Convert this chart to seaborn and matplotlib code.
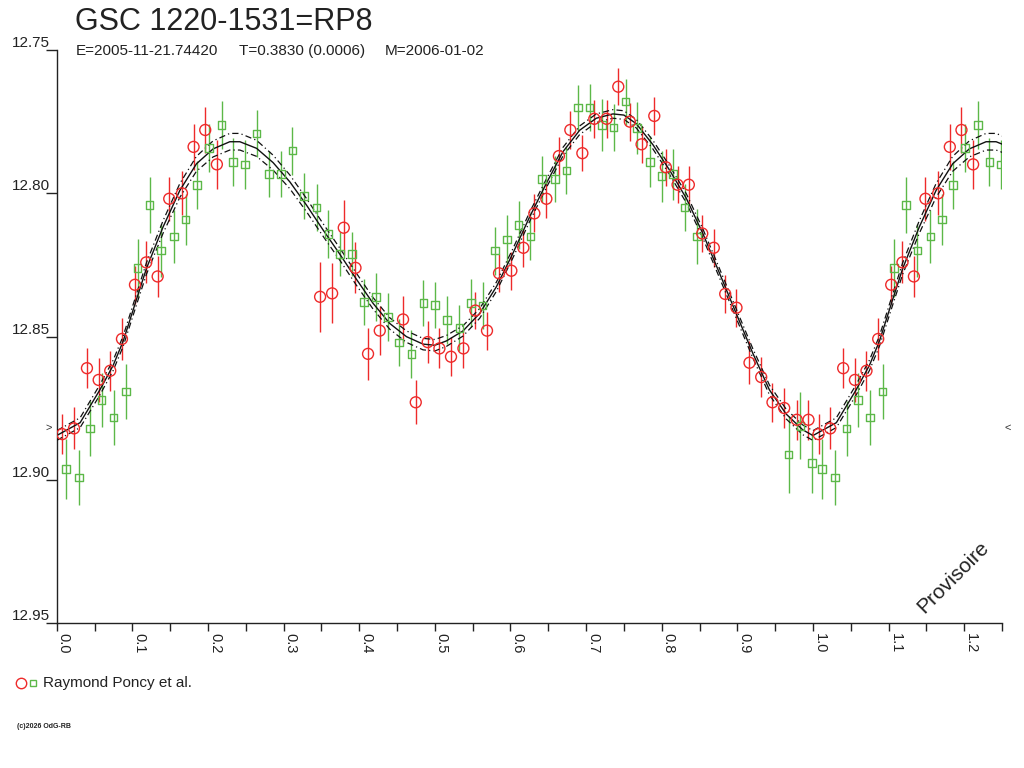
import numpy as np
import pandas as pd
import matplotlib
matplotlib.use("Agg")
import matplotlib.pyplot as plt
import matplotlib.transforms as mtransforms
from matplotlib.lines import Line2D
import seaborn as sns

# ---------------- texts ----------------
title = "GSC 1220-1531=RP8"
epoch_text = "E=2005-11-21.74420"
period_text = "T=0.3830 (0.0006)"
max_text = "M=2006-01-02"
legend_label = "Raymond Poncy et al."
copyright_text = "(c)2026 OdG-RB"
watermark = "Provisoire"

# ---------------- observations (phase 0..1) ----------------
red_phase = [0.0074, 0.0229, 0.0400, 0.0555, 0.0708, 0.0863, 0.1035, 0.1184, 0.1335, 0.1488,
             0.1656, 0.1810, 0.1964, 0.2118, 0.3483, 0.3642, 0.3796, 0.3951, 0.4117, 0.4272,
             0.4580, 0.4748, 0.4906, 0.5061, 0.5214, 0.5378, 0.5537, 0.5690, 0.5849, 0.6012,
             0.6171, 0.6316, 0.6475, 0.6641, 0.6792, 0.6951, 0.7109, 0.7271, 0.7426, 0.7579,
             0.7734, 0.7902, 0.8055, 0.8210, 0.8359, 0.8536, 0.8689, 0.8840, 0.8989, 0.9161,
             0.9316, 0.9465, 0.9620, 0.9786, 0.9941]
red_mag = [12.8840, 12.8820, 12.8610, 12.8651, 12.8619, 12.8508, 12.8319, 12.8241, 12.8290, 12.8019,
           12.8000, 12.7838, 12.7779, 12.7899, 12.8361, 12.8349, 12.8120, 12.8260, 12.8560, 12.8479,
           12.8440, 12.8729, 12.8519, 12.8541, 12.8570, 12.8541, 12.8409, 12.8479, 12.8279, 12.8270,
           12.8190, 12.8070, 12.8019, 12.7870, 12.7779, 12.7860, 12.7740, 12.7740, 12.7628, 12.7750,
           12.7829, 12.7730, 12.7909, 12.7970, 12.7970, 12.8140, 12.8190, 12.8351, 12.8399, 12.8591,
           12.8641, 12.8729, 12.8749, 12.8790, 12.8790]
red_err = [0.0070, 0.0073, 0.0070, 0.0077, 0.0070, 0.0073, 0.0066, 0.0073, 0.0073, 0.0077,
           0.0077, 0.0080, 0.0081, 0.0085, 0.0122, 0.0105, 0.0096, 0.0089, 0.0090, 0.0085,
           0.0083, 0.0077, 0.0073, 0.0070, 0.0069, 0.0068, 0.0066, 0.0066, 0.0066, 0.0066,
           0.0066, 0.0066, 0.0066, 0.0066, 0.0066, 0.0063, 0.0066, 0.0066, 0.0064, 0.0066,
           0.0064, 0.0066, 0.0064, 0.0064, 0.0066, 0.0066, 0.0066, 0.0066, 0.0066, 0.0075,
           0.0071, 0.0068, 0.0070, 0.0070, 0.0070]

green_phase = [0.0119, 0.0291, 0.0444, 0.0595, 0.0753, 0.0920, 0.1070, 0.1229, 0.1382, 0.1554,
               0.1705, 0.1854, 0.2012, 0.2180, 0.2334, 0.2488, 0.2643, 0.2809, 0.2964, 0.3118,
               0.3272, 0.3436, 0.3594, 0.3747, 0.3902, 0.4065, 0.4223, 0.4378, 0.4527, 0.4691,
               0.4850, 0.5003, 0.5158, 0.5326, 0.5479, 0.5633, 0.5792, 0.5954, 0.6109, 0.6263,
               0.6417, 0.6589, 0.6739, 0.6892, 0.7047, 0.7209, 0.7364, 0.7523, 0.7672, 0.7844,
               0.7999, 0.8147, 0.8302, 0.8470, 0.9677, 0.9835, 0.9984]
green_mag = [12.8962, 12.8991, 12.8821, 12.8721, 12.8782, 12.8691, 12.8260, 12.8041, 12.8200, 12.8151,
             12.8091, 12.7970, 12.7841, 12.7761, 12.7890, 12.7900, 12.7791, 12.7932, 12.7932, 12.7851,
             12.8010, 12.8050, 12.8141, 12.8211, 12.8211, 12.8380, 12.8361, 12.8432, 12.8521, 12.8560,
             12.8382, 12.8390, 12.8441, 12.8470, 12.8382, 12.8392, 12.8200, 12.8161, 12.8110, 12.8151,
             12.7950, 12.7950, 12.7921, 12.7701, 12.7701, 12.7761, 12.7771, 12.7680, 12.7772, 12.7890,
             12.7940, 12.7933, 12.8050, 12.8151, 12.8911, 12.8811, 12.8940]
green_err = [0.0105, 0.0096, 0.0096, 0.0095, 0.0096, 0.0095, 0.0102, 0.0097, 0.0093, 0.0092,
             0.0090, 0.0083, 0.0084, 0.0083, 0.0083, 0.0086, 0.0081, 0.0081, 0.0081, 0.0084,
             0.0080, 0.0083, 0.0083, 0.0077, 0.0076, 0.0081, 0.0084, 0.0083, 0.0083, 0.0083,
             0.0081, 0.0081, 0.0083, 0.0081, 0.0083, 0.0081, 0.0084, 0.0086, 0.0084, 0.0081,
             0.0081, 0.0080, 0.0083, 0.0080, 0.0081, 0.0090, 0.0083, 0.0080, 0.0090, 0.0089,
             0.0089, 0.0089, 0.0081, 0.0096, 0.0133, 0.0117, 0.0104]

# ---------------- fitted light curve ----------------
curve_phase = [0.000, 0.031, 0.057, 0.0747, 0.088, 0.1055, 0.1187, 0.1407, 0.1628, 0.1848,
               0.2068, 0.2289, 0.2422, 0.2643, 0.2862, 0.3083, 0.3303, 0.3523, 0.3743, 0.3964,
               0.4184, 0.4404, 0.4625, 0.4844, 0.5000, 0.5153, 0.5373, 0.5593, 0.5814, 0.6033,
               0.6254, 0.6475, 0.6694, 0.6915, 0.7135, 0.7355, 0.7500, 0.7664, 0.7883, 0.8104,
               0.8325, 0.8544, 0.8765, 0.8985, 0.9205, 0.9425, 0.9646, 0.9865]
curve_mag = [12.8845, 12.8800, 12.8686, 12.8600, 12.8515, 12.8370, 12.8262, 12.8117, 12.7990, 12.7897,
             12.7845, 12.7820, 12.7820, 12.7843, 12.7893, 12.7960, 12.8041, 12.8128, 12.8212, 12.8300,
             12.8384, 12.8454, 12.8500, 12.8526, 12.8530, 12.8515, 12.8480, 12.8419, 12.8326, 12.8209,
             12.8082, 12.7965, 12.7855, 12.7780, 12.7738, 12.7723, 12.7727, 12.7757, 12.7830, 12.7919,
             12.8017, 12.8140, 12.8279, 12.8419, 12.8558, 12.8686, 12.8770, 12.8825]
curve_hw = [0.0017, 0.0017, 0.0018, 0.0018, 0.0018, 0.0019, 0.0020, 0.0022, 0.0024, 0.0026,
            0.0028, 0.0029, 0.0029, 0.0028, 0.0026, 0.0024, 0.0023, 0.0022, 0.0021, 0.0021,
            0.0020, 0.0020, 0.0020, 0.0020, 0.0020, 0.0019, 0.0018, 0.0017, 0.0016, 0.0016,
            0.0016, 0.0015, 0.0015, 0.0015, 0.0015, 0.0015, 0.0015, 0.0015, 0.0015, 0.0015,
            0.0016, 0.0016, 0.0016, 0.0016, 0.0016, 0.0017, 0.0017, 0.0017]

x_ticks = [0.0, 0.1, 0.2, 0.3, 0.4, 0.5, 0.6, 0.7, 0.8, 0.9, 1.0, 1.1, 1.2]
x_minor = [0.05, 0.15, 0.25, 0.35, 0.45, 0.55, 0.65, 0.75, 0.85, 0.95, 1.05, 1.15, 1.25]
y_ticks = [12.75, 12.80, 12.85, 12.90, 12.95]
x_range = (0.0, 1.25)
y_range = (12.95, 12.75)
mean_marker_mag = 12.8818

RED = "#ee2a2a"
GREEN = "#5cb848"


def extend(df, upto=0.27):
    """Repeat the start of the cycle after phase 1 (standard phase diagram)."""
    rep = df[df["phase"] <= upto].copy()
    rep["phase"] = rep["phase"] + 1.0
    return pd.concat([df, rep], ignore_index=True)


red = extend(pd.DataFrame({"phase": red_phase, "mag": red_mag, "err": red_err}))
green = extend(pd.DataFrame({"phase": green_phase, "mag": green_mag, "err": green_err}))
curve = pd.DataFrame({"phase": curve_phase, "mag": curve_mag, "hw": curve_hw})
curve = extend(curve, upto=0.29).sort_values("phase").reset_index(drop=True)
curve["upper"] = curve["mag"] - curve["hw"]
curve["lower"] = curve["mag"] + curve["hw"]

# ---------------- figure ----------------
sns.set_theme(style="white")
plt.rcParams["font.family"] = ["Liberation Sans", "DejaVu Sans"]

fig = plt.figure(figsize=(10.24, 7.68), dpi=100)
ax = fig.add_axes([56.7 / 1024, 1 - 623.3 / 768, (1002 - 56.7) / 1024, (623.3 - 50) / 768])

# error bars
ax.errorbar(green["phase"], green["mag"], yerr=green["err"], fmt="none",
            ecolor=GREEN, elinewidth=1.0, capsize=0, zorder=2)
ax.errorbar(red["phase"], red["mag"], yerr=red["err"], fmt="none",
            ecolor=RED, elinewidth=1.0, capsize=0, zorder=2)

# fit + envelope
sns.lineplot(data=curve, x="phase", y="mag", ax=ax, color="#111111", lw=1.0,
             sort=False, estimator=None, zorder=3)
for col in ("upper", "lower"):
    sns.lineplot(data=curve, x="phase", y=col, ax=ax, color="#111111", lw=0.9,
                 sort=False, estimator=None, dashes=False, zorder=3,
                 linestyle=(0, (5, 2.5, 1, 2.5)))

# markers
sns.scatterplot(data=green, x="phase", y="mag", ax=ax, marker="s", s=30,
                facecolor="none", edgecolor=GREEN, linewidth=1.0, zorder=4)
sns.scatterplot(data=red, x="phase", y="mag", ax=ax, marker="o", s=62,
                facecolor="none", edgecolor=RED, linewidth=1.0, zorder=4)

# axes styling
ax.set_xlim(*x_range)
ax.set_ylim(*y_range)
ax.set_xlabel("")
ax.set_ylabel("")
for s in ("top", "right"):
    ax.spines[s].set_visible(False)
for s in ("left", "bottom"):
    ax.spines[s].set_color("#222222")
    ax.spines[s].set_linewidth(1.0)

ax.set_xticks(x_ticks)
ax.set_xticks(x_minor, minor=True)
ax.set_xticklabels([f"{v:.1f}" for v in x_ticks], rotation=-90, ha="left", va="top")
ax.set_yticks(y_ticks)
ax.set_yticklabels([f"{v:.2f}" for v in y_ticks], va="bottom")
ax.tick_params(axis="x", which="both", direction="out", length=6, width=1.0,
               color="#222222", pad=1, labelsize=10.5, labelcolor="#222222", bottom=True)
ax.tick_params(axis="y", which="major", direction="out", length=7.7, width=1.0,
               color="#222222", pad=-3, labelsize=11, labelcolor="#222222", left=True)
ax.grid(False)

# mean markers at the sides
tr = mtransforms.blended_transform_factory(ax.transAxes, ax.transData)
ax.text(-0.009, mean_marker_mag, ">", transform=tr, ha="center", va="center",
        fontsize=8, color="#333333", clip_on=False)
ax.text(1.0065, mean_marker_mag, "<", transform=tr, ha="center", va="center",
        fontsize=8, color="#333333", clip_on=False)

# titles
fig.text(75 / 1024, 1 - 30 / 768, title, fontsize=22, color="#222222", va="baseline")
fig.text(76 / 1024, 1 - 55 / 768, epoch_text, fontsize=11, color="#222222", va="baseline")
fig.text(239 / 1024, 1 - 55 / 768, period_text, fontsize=11, color="#222222", va="baseline")
fig.text(385 / 1024, 1 - 55 / 768, max_text, fontsize=11, color="#222222", va="baseline")

# legend
fig.add_artist(Line2D([21 / 1024], [1 - 682.5 / 768], marker="o", markersize=7.5,
                      markerfacecolor="none", markeredgecolor=RED, markeredgewidth=1.0,
                      linestyle="none", transform=fig.transFigure))
fig.add_artist(Line2D([32.5 / 1024], [1 - 682.5 / 768], marker="s", markersize=5,
                      markerfacecolor="none", markeredgecolor=GREEN, markeredgewidth=1.0,
                      linestyle="none", transform=fig.transFigure))
fig.text(43 / 1024, 1 - 687.5 / 768, legend_label, fontsize=11, color="#222222", va="baseline")

fig.text(17 / 1024, 1 - 728.5 / 768, copyright_text, fontsize=5, color="#222222",
         va="baseline", fontweight="bold")

fig.text(953 / 1024, 1 - 577 / 768, watermark, fontsize=15, rotation=45,
         ha="center", va="center", color="#222222")

fig.savefig("out.png", dpi=100, facecolor="white")
